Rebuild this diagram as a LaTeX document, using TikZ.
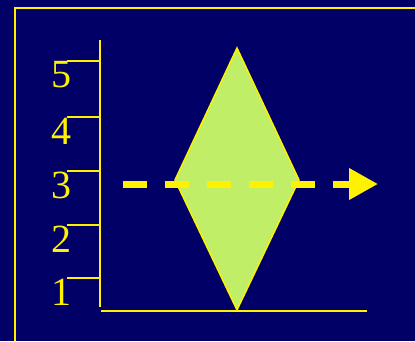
\documentclass[tikz,border=0pt]{standalone}
\usepackage{fontspec}
\setmainfont{Liberation Serif}
\usetikzlibrary{arrows.meta}
\definecolor{slidebg}{HTML}{000066}
\definecolor{lensfill}{HTML}{C0EE66}

\begin{document}
\begin{tikzpicture}
[
	x=1pt,y=-1pt,
	axisline/.style={yellow,line width=2.5pt},
	tickline/.style={yellow,line width=2pt},
	ticklabel/.style={text=yellow,inner sep=0pt,font=\fontsize{40}{40}\selectfont},
	lens/.style={fill=lensfill,draw=yellow,line width=1.5pt,line join=miter},
	ray/.style={yellow,line width=7pt,dash pattern=on 24pt off 18pt,-{Triangle[length=29pt,width=30pt]}}
]

	% background and frame
	\fill[slidebg] (0,0) rectangle (415,341);
	\useasboundingbox (0,0) rectangle (415,341);
	\draw[axisline] (15,341) -- (15,8) -- (415,8);

	% axes
	\coordinate (ytop) at (100,40);
	\coordinate (ybot) at (100,307);
	\coordinate (xleft) at (101,311);
	\coordinate (xright) at (367,311);
	\draw[axisline] (ytop) -- (ybot);

	\foreach \n/\y in {1/278,2/225,3/171,4/117,5/61} {
		\coordinate (tick\n) at (100,\y);
		\draw[tickline] (tick\n) -- ++(-33,0);
		\node[ticklabel] (lab\n) at (61,\y+14) {\n};
	}

	% diamond
	\draw[lens] (237,48) -- (299,180) -- (237,310) -- (175,180) -- cycle;
	\draw[axisline] (xleft) -- (xright);

	% dashed arrow
	\coordinate (raystart) at (123,184);
	\coordinate (rayend) at (378,184);
	\draw[ray] (raystart) -- (rayend);

\end{tikzpicture}
\end{document}
